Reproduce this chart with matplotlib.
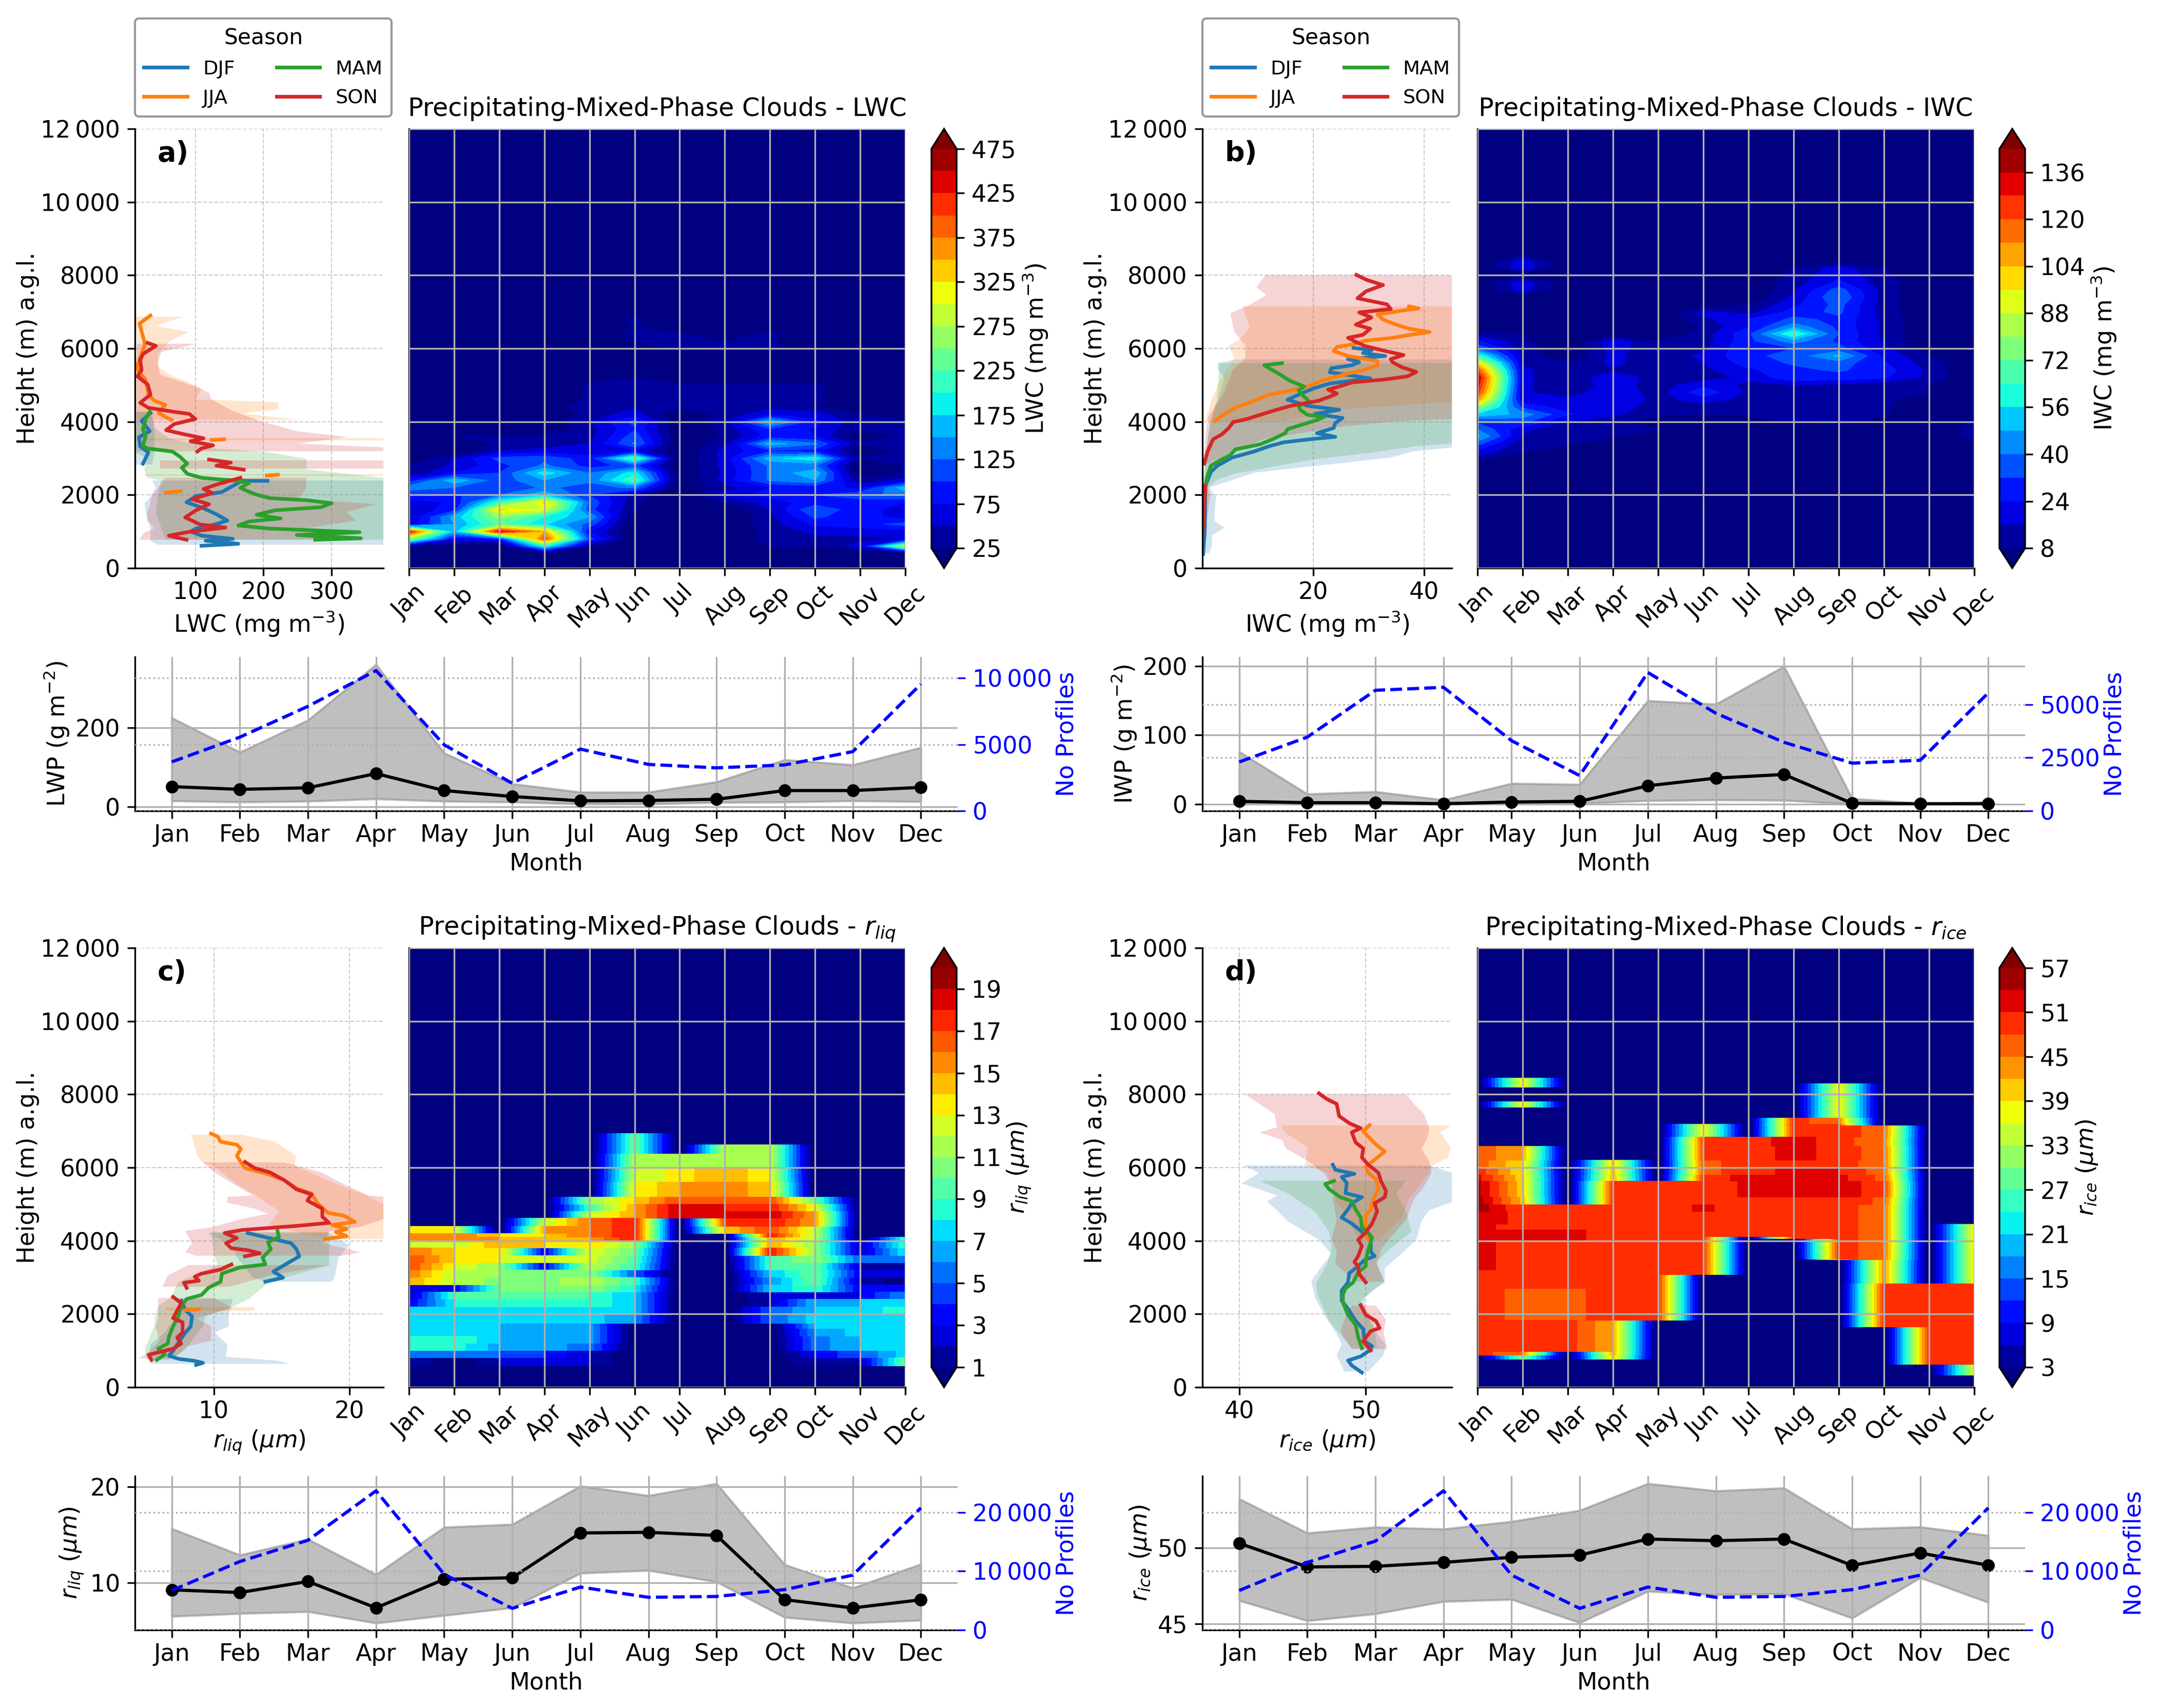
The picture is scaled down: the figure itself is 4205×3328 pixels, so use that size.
import numpy as np
import matplotlib
matplotlib.use("Agg")
import matplotlib.pyplot as plt

nan = np.nan
months = ["Jan", "Feb", "Mar", "Apr", "May", "Jun", "Jul", "Aug", "Sep", "Oct", "Nov", "Dec"]
seasons = ["DJF", "JJA", "MAM", "SON"]
season_colors = {"DJF": "tab:blue", "JJA": "tab:orange", "MAM": "tab:green", "SON": "tab:red"}

# ---------- monthly series ----------
lwp_mean = [51, 44, 48, 84, 41, 26, 15, 16, 19, 41, 41, 49]
lwp_high = [225, 138, 219, 360, 136, 58, 37, 37, 63, 119, 106, 150]
lwp_low = [15, 12, 14, 20, 14, 12, 7, 7, 11, 12, 15, 13]
lwp_n = [3690, 5550, 7870, 10565, 4975, 2080, 4650, 3500, 3240, 3460, 4460, 9540]
iwp_mean = [4, 2, 2, 0.5, 3, 4, 26.5, 37.7, 43, 1, 0.5, 0.5]
iwp_high = [76, 14.6, 18, 6, 30, 28.5, 150, 145, 200, 8, 1, 3]
iwp_low = [0.5, 0, 0, 0, 0.5, 1, 5, 6, 5.5, 0, 0, 0]
iwp_n = [2300, 3470, 5670, 5810, 3300, 1660, 6510, 4590, 3225, 2245, 2380, 5550]
rliq_mean = [9.27, 8.99, 10.14, 7.39, 10.36, 10.53, 15.2, 15.27, 14.94, 8.24, 7.38, 8.23]
rliq_high = [15.66, 12.9, 14.55, 10.87, 15.8, 16.1, 20.1, 19.1, 20.35, 11.9, 9.47, 11.95]
rliq_low = [6.5, 6.8, 7, 5.8, 6.6, 7.4, 11, 11.3, 10.1, 6.4, 5.8, 6.1]
rliq_n = [6715, 11635, 15250, 23650, 9465, 3675, 7295, 5555, 5700, 6860, 9320, 20750]
rice_mean = [50.3, 48.74, 48.78, 49.04, 49.38, 49.52, 50.58, 50.47, 50.58, 48.84, 49.66, 48.85]
rice_high = [53.24, 50.98, 51.37, 51.24, 51.74, 52.47, 54.24, 53.76, 53.95, 51.25, 51.38, 50.82]
rice_low = [46.52, 45.19, 45.65, 46.46, 46.6, 45.06, 47.13, 46.91, 46.97, 45.36, 48.03, 46.4]
rice_n = [6715, 11490, 15100, 23650, 9320, 3675, 7295, 5555, 5700, 6860, 9320, 20750]

# ---------- seasonal profile lines (height, value) ----------
lwc_djf_h = [4240, 4020, 3740, 3575, 3326, 3160, 2855, nan, 2384, 2384, 2245, 2080, 1968, 1800, 1635, 1470, 1300, 1190, 1080, 1000, 887, 800, 750, 665, 610]
lwc_djf_v = [34, 21, 33, 17, 19, 31, 23, nan, 206, 169, 155, 139, 101, 87, 112, 131, 147, 128, 101, 93, 109, 155, 115, 163, 109]
lwc_jja_h = [6900, 6680, 6400, 6125, 5850, 5515, 5350, 5180, 4960, 4740, 4570, 4460, 4240, 4130, 4050, nan, 3500, 3520, nan, 2530, 2550, nan, 2060, 2100]
lwc_jja_v = [34, 18, 22, 26, 21, 14, 17, 26, 29, 31, 40, 56, 46, 56, 65, nan, 124, 142, nan, 205, 221, nan, 57, 78]
lwc_mam_h = [4268, 4074, 3797, 3600, 3354, 3270, 3187, 3049, 2855, 2744, 2578, 2467, 2395, 2328, 2190, 2023, 1912, 1857, 1774, 1663, 1580, 1458, 1358, 1275, 1164, 1081, 981, 904, 815, 776]
lwc_mam_v = [33, 27, 23, 27, 23, 29, 66, 77, 88, 80, 88, 109, 155, 179, 166, 187, 209, 263, 300, 284, 217, 190, 225, 179, 163, 209, 341, 249, 343, 276]
lwc_son_h = [6153, 6070, 5848, 5682, 5405, 5238, 5017, 4740, 4518, 4380, 4268, 4213, 4074, 3936, 3769, 3658, 3548, 3465, 3354, 3270, 3187, nan, 2966, 2883, 2800, 2688, nan, 2467, 2300, 2162, 2051, 1885, 1746, 1580, 1386, 1192, 1109, 998, 887, 776]
lwc_son_v = [30, 42, 23, 19, 21, 15, 30, 34, 19, 31, 69, 91, 100, 69, 57, 83, 112, 93, 126, 109, 103, nan, 120, 152, 131, 171, nan, 166, 134, 112, 125, 95, 120, 101, 85, 107, 144, 93, 61, 87]

iwc_djf_h = [388, 1025, 2245, 2633, 2800, 3020, 3187, 3326, 3437, 3520, 3586, 3686, 3825, 3963, 4102, 4213, 4324, 4435, 4600, 4712, 4906, 5044, 5183, 5266, 5350, 5460, 5543, 5626, 5710, 5793, 5876, 5959, 6015]
iwc_djf_v = [0.2, 0.5, 0.6, 1.6, 2.8, 5.4, 9.4, 12, 14.7, 19.4, 24, 20.7, 23.7, 24, 25.3, 20.4, 24.7, 19, 15.4, 17, 20, 23, 30.3, 26.7, 23, 23.3, 27, 28.3, 26.3, 33, 29, 30.6, 27.3]
iwc_jja_h = [4019, 4185, 4379, 4573, 4739, 4850, 4961, 5127, 5294, 5405, 5543, 5654, 5793, 5931, 6042, 6114, 6208, 6291, 6374, 6447, 6540, 6651, 6790, 6929, 7040, 7095, 7150]
iwc_jja_v = [2.3, 3.8, 6, 9.4, 12, 16, 19, 21.7, 25.7, 29, 31.6, 31.6, 26.3, 23.7, 24.3, 27.3, 29.3, 34.3, 37.6, 41, 37.3, 35, 32.6, 31.6, 36.3, 39, 37.3]
iwc_mam_h = [1303, 2217, 2578, 2800, 2966, 3076, 3243, 3381, 3520, 3686, 3797, 3936, 4047, 4130, 4185, 4324, 4435, 4545, 4684, 4850, 4961, 5127, 5294, 5432, 5543, 5598]
iwc_mam_v = [0.2, 0.5, 1.1, 1.6, 3.5, 5, 6, 10.4, 12.7, 15, 15.4, 18.4, 20.7, 22, 19, 17.7, 17.4, 19.4, 18.4, 17.4, 18.4, 15.7, 14, 12.4, 11.2, 14.4]
iwc_son_h = [970, 2245, nan, 2855, 3187, 3520, 3658, 3825, 3991, 4074, 4213, 4324, 4435, 4573, 4684, 4767, 4878, 4961, 5072, 5155, 5238, 5360, 5488, 5626, 5710, 5820, 5931, 6070, 6180, 6291, 6374, 6540, 6651, 6846, 6984, 7078, 7206, 7372, 7566, 7732, 7871, 8010]
iwc_son_v = [0.1, 0.6, nan, 0.4, 1, 2, 3.6, 4.8, 5.6, 8.1, 11, 13.4, 16, 21, 23, 24.3, 22.7, 24.7, 27, 33, 37, 38.6, 36, 34.3, 34, 36.3, 33, 29.3, 27.7, 26.3, 29, 30.3, 27.7, 30.5, 28.3, 34, 33.3, 28, 29.6, 32.6, 29.7, 27.8]

rliq_djf_h = [4213, 4047, 3936, 3769, 3576, 3381, 3160, 2993, 2882, nan, 2356, 2106, 1940, 1663, 1441, 1220, 998, 859, 776, 720, 665, 610]
rliq_djf_v = [12.5, 14.4, 15.7, 16.1, 16.3, 15.4, 14.4, 15.1, 13.8, nan, 7.6, 7.9, 8.4, 8.3, 7.8, 7.4, 7, 6.7, 7.4, 8.6, 9.2, 8.7]
rliq_jja_h = [6930, 6846, 6707, 6624, 6513, 6319, 6098, 5987, 5820, 5654, 5432, 5294, 5044, 4767, 4684, 4518, 4435, 4324, 4240, 4130, 4047, nan, 2134, 2106]
rliq_jja_v = [9.8, 10.3, 10.5, 11.7, 12, 11.7, 12.1, 12.3, 14, 15.2, 16.1, 17.2, 17.6, 18.4, 19.6, 20.4, 18.7, 19.8, 19, 19.8, 18.2, nan, 8.9, 7.9]
rliq_mam_h = [4268, 4102, 3963, 3769, 3548, 3354, 3271, 3104, 2882, 2716, 2522, 2411, 2217, 1940, 1663, 1386, 1192, 1053, 900, 748]
rliq_mam_v = [14.7, 14.8, 14, 14.2, 13.6, 13.8, 11.9, 10.6, 10.5, 9.6, 9.1, 8, 7.6, 7.4, 7, 6.7, 6.6, 5.9, 6.4, 5.8]
rliq_son_h = [6153, 5987, 5876, 5654, 5404, 5266, 5100, 4878, 4656, 4490, 4407, 4296, 4213, 4074, 3936, 3797, 3742, 3659, 3576, nan, 3354, 3215, 3104, 3021, 2910, 2855, 2716, nan, 2467, 2300, 2162, 1885, 1774, 1497, 1358, 1192, 1053, 887, 748]
rliq_son_v = [12.3, 13, 14.1, 15.2, 16.1, 17.2, 16.9, 18, 18, 18.5, 16.1, 12.1, 10.8, 11.7, 10.9, 11.3, 12.5, 13.4, 12.3, nan, 11.3, 10.5, 9.1, 8.6, 8.9, 7.8, 8, nan, 7, 7.6, 7.4, 7, 7.7, 7.7, 7.3, 7.6, 7, 5.2, 5.4]

rice_djf_h = [400, 593, 731, 842, 980, 1119, 1258, 1590, 1812, 2144, 2366, 2643, 2864, 3114, 3307, 3474, 3584, 3695, 4028, 4277, 4471, 4637, 4859, 5025, 5191, 5302, 5579, 5745, 5828, 5939, 6078]
rice_djf_v = [49.7, 48.9, 48.6, 49.6, 50.2, 50.5, 49.9, 49.8, 49.2, 48.6, 48.1, 48.1, 48.6, 48.7, 49.4, 49.9, 50.7, 50.4, 50.4, 49.6, 48.9, 48.1, 48.6, 48.9, 49.7, 48.4, 48.5, 48.1, 49.1, 47.6, 47.4]
rice_jja_h = [4028, 4194, 4471, 4692, 4859, 5136, 5413, 5690, 5856, 6022, 6188, 6299, 6438, 6632, 6881, 6992, 7158]
rice_jja_v = [50.2, 49.9, 50, 50, 50.4, 50.6, 51, 50.8, 50.2, 50, 50.6, 51, 51.5, 50.8, 50.1, 49.8, 50.3]
rice_mam_h = [1064, 1368, 1701, 1978, 2310, 2532, 2698, 2864, 3141, 3307, 3474, 3751, 4083, 4222, 4360, 4637, 4859, 5080, 5191, 5413, 5551, 5634]
rice_mam_v = [49.7, 49.4, 49.2, 48.6, 48.2, 48.2, 48.4, 49, 49.4, 50, 50, 50.2, 50.5, 50.2, 49.7, 49.6, 49.2, 48.9, 48, 47.1, 46.8, 47.5]
rice_son_h = [1008, 1258, 1535, 1618, 1812, 1978, 2244, nan, 2864, 3086, 3307, 3418, 3584, 3861, 4028, 4194, 4471, 4803, 5025, 5191, 5357, 5634, 5856, 6078, 6272, 6521, 6687, 6964, 7075, 7213, 7407, 7740, 7878, 8028]
rice_son_v = [50.4, 49.8, 50.4, 51.1, 50.8, 50, 49.6, nan, 50, 49.5, 49.4, 49.1, 49.4, 49.7, 49.4, 49.9, 50.5, 50.9, 50.7, 51.5, 51.6, 51.2, 51, 50.2, 49.7, 49.8, 49.2, 48.9, 49.6, 48.7, 47.9, 47.7, 46.9, 46.3]

# ---------- seasonal spread: each piece is (heights, lower, upper) ----------
lwc_djf_spread = [([4270, 3830, 3190, 2830], [14, 13, 13, 13], [37, 40, 40, 37]),
                  ([2395, 2190, 1860, 1770, 1410, 1080, 750, 640], [37, 42, 30, 25, 29, 34, 34, 45], [376] * 8)]
lwc_jja_spread = [([6870, 6620, 6450, 6180, 5850, 5500, 5300, 5100, 4890, 4610, 4530, 4340, 4230, 4050],
                   [13, 13, 14, 14, 14, 13, 13, 13, 13, 13, 13, 13, 13, 14],
                   [82, 42, 90, 61, 45, 45, 61, 87, 109, 100, 222, 222, 169, 254]),
                  ([3540, 3490], [14, 14], [376, 376]), ([2560, 2520], [24, 24], [376, 376])]
lwc_mam_spread = [([4270, 3830, 3550, 3270, 3160, 2990, 2700, 2470, 2395, 2000, 1500, 776],
                   [13, 13, 13, 13, 13, 29, 25, 29, 50, 45, 42, 56],
                   [34, 40, 61, 128, 209, 263, 263, 376, 376, 376, 376, 376])]
lwc_son_spread = [([6130, 5900, 5620, 5290, 4960, 4790, 4620, 4290, 4020, 3740, 3580, 3400, 3300, 3190],
                   [14] * 14, [101, 50, 45, 48, 101, 120, 123, 155, 195, 249, 324, 250, 376, 376]),
                  ([2950, 2720], [48, 48], [376, 376]),
                  ([2470, 2190, 1890, 1750, 1530, 1300, 1090, 970, 776],
                   [56, 45, 34, 34, 29, 29, 40, 25, 17],
                   [263, 263, 250, 366, 322, 336, 263, 300, 300])]

iwc_djf_spread = [([5700, 5600, 5450, 5200, 4630, 3960, 3300, 3190, 3020, 2800, 2610, 2200, 1950, 1580, 1300, 1100, 900, 630, 410],
                   [5.8, 2.9, 2.8, 4, 3, 1.5, 0.9, 0.8, 0.7, 0.6, 0.5, 0.3, 0.2, 0.2, 0.2, 0.2, 0.2, 0.2, 0.2],
                   [45.5, 45.5, 45.5, 45.5, 45.5, 45.5, 45.5, 38, 34, 21, 9.5, 1.4, 2.5, 2.3, 2.2, 4, 1.8, 1.8, 1.3])]
iwc_jja_spread = [([7150, 6570, 6260, 6070, 5740, 5180, 4630, 4545, 4350, 4019],
                   [7.3, 8.6, 6.8, 4.8, 5.8, 3.4, 1.8, 1.6, 1.2, 0.6],
                   [45.5, 45.5, 45.5, 45.5, 45.5, 45.5, 45.5, 45.5, 26, 14.9])]
iwc_mam_spread = [([5600, 4630, 3960, 3409, 3326, 3160, 2966, 2578, 2411, 2217, 1300],
                   [3.1, 2.7, 1.4, 0.9, 0.8, 0.7, 0.5, 0.3, 0.2, 0.1, 0.1],
                   [45.5, 45.5, 45.5, 45.5, 38.4, 30.9, 20, 5.8, 2.7, 1.2, 0.3])]
iwc_son_spread = [([8000, 7675, 7455, 7180, 6960, 6460, 6070, 5740, 5400, 4740, 4190, 4074, 4020, 3850, 3520, 2855],
                   [11.4, 9.8, 11.6, 8.4, 5.1, 5.8, 7.8, 7.8, 5.5, 3.8, 1.3, 1, 1, 0.8, 0.6, 0.2],
                   [45.5, 45.5, 45.5, 45.5, 45.5, 45.5, 45.5, 45.5, 45.5, 45.5, 45.5, 45.5, 35.6, 24.3, 11, 1]),
                  ([2245, 1950, 1300, 970], [0.1, 0.1, 0.1, 0.1], [1, 1.5, 0.8, 0.2])]

rliq_djf_spread = [([4213, 3880, 3548, 2993, 2882], [9.5, 11.4, 11.7, 12.9, 13.8], [18.5, 20, 19.2, 18.9, 18.7]),
                   ([2411, 1996, 1663, 1497, 1164, 832, 720, 637],
                    [7.4, 7.4, 6.7, 6.4, 5.3, 5.3, 5.3, 5.4], [11.4, 11.1, 11.1, 10.05, 11, 10.9, 14.8, 15.5])]
rliq_jja_spread = [([6900, 6707, 6540, 6320, 6153, 6040, 5543, 5266, 4990, 4820, 4435, 4047],
                    [8.3, 8.5, 8.6, 8.8, 9.1, 10, 11.7, 13, 14.1, 14.8, 14.1, 18.2],
                    [12.1, 14.5, 15.2, 16.05, 16, 16, 19.1, 21.1, 22.6, 22.6, 22.6, 22.6]),
                   ([2180, 2090], [6.5, 6.5], [13, 13])]
rliq_mam_spread = [([4240, 3576, 3326, 2882, 2439, 2217, 1940, 1663, 1386, 1025, 748],
                    [9.8, 10.05, 10.3, 7.4, 6.8, 5.9, 5.7, 5.6, 5.3, 4.9, 5.1],
                    [18.5, 18.5, 18.5, 14.1, 12.7, 11.5, 9.4, 9.2, 8.6, 7.9, 6.7])]
rliq_son_spread = [([6142, 5876, 5543, 5238, 5200, 5044, 4878, 4740, 4600, 4380, 4268, 3936, 3686, 3592],
                    [9.2, 10, 11.5, 12.9, 11, 11, 13, 14, 12.1, 10, 7.9, 8.4, 7.9, 8.7],
                    [15.2, 17.9, 19.6, 21.4, 22.6, 22.6, 22.6, 22.6, 22.6, 20.8, 18.5, 18.1, 20.8, 19.5]),
                   ([3337, 3049, 2744], [8.1, 6.6, 6.2], [18.5, 14.1, 11.1]),
                   ([2439, 2162, 1885, 1663, 1275, 1109, 887, 787],
                    [5.9, 5.9, 5.9, 5.7, 6, 5.6, 4.9, 4.4], [10.05, 11.4, 8.7, 9.8, 9.8, 8, 7.4, 6.7])]

rice_djf_spread = [([6060, 5850, 5570, 5240, 5070, 4830, 4540, 4030, 3640, 3250, 2900, 2440, 1990, 1400, 1170, 870, 430],
                    [40.3, 41.6, 40.2, 43, 42.2, 43, 43.8, 46.3, 47.3, 46.4, 45.7, 46, 46.7, 47.8, 48.1, 47.7, 48.3],
                    [55, 56.9, 56.9, 56.9, 56.9, 55, 54.4, 54, 52.8, 51.5, 51.5, 49.9, 50, 51, 51.6, 51.4, 50.2])]
rice_jja_spread = [([7150, 6960, 6550, 6270, 6070, 5850, 5130, 4580, 4030],
                    [43.3, 43.6, 45.4, 45.3, 45.2, 47, 47.6, 48.6, 49.4],
                    [56.7, 55.9, 56.7, 56.5, 55.3, 55, 53.4, 52.8, 51])]
rice_mam_spread = [([5640, 5300, 4800, 4250, 3800, 3420, 2850, 2670, 2340, 2190, 1810, 1060],
                    [41.6, 43.8, 46, 47.1, 47.3, 47, 46.1, 46.1, 46.4, 46.6, 47.1, 48.9],
                    [53.2, 52.4, 53.2, 53.6, 52, 50.8, 51.5, 50.6, 49.6, 49.9, 50.6, 50.9])]
rice_son_spread = [([8000, 7740, 7460, 7100, 6960, 6760, 6520, 6190, 5850, 5430, 5130, 4580, 4030, 3750, 3360, 2880],
                    [40.5, 41.6, 42.8, 43, 41.6, 43.4, 43.7, 45.4, 46.7, 47.4, 47.4, 47.7, 47.3, 47.7, 47.6, 49.2],
                    [53.2, 53.8, 54.6, 55, 55, 54.8, 54.4, 55, 55.2, 54.5, 53.8, 53.2, 51.8, 51.2, 50.9, 51.5]),
                   ([2230, 1840, 1530, 1040], [48.9, 48.3, 48, 48.9], [50.8, 51.6, 51.4, 51.7])]

# ---------- height-month sections ----------
lwc_heights = [400, 600, 800, 1000, 1200, 1400, 1600, 1800, 2000, 2200, 2400, 2600, 2800, 3000, 3200, 3400, 3600,
               3800, 4000, 4200, 4400, 4600, 4800, 5000, 5200, 5400, 5600, 5800, 6000, 6200, 6400, 6600, 6800, 7000]
lwc_table = [
    [0, 0, 0, 0, 0, 0, 0, 0, 0, 0, 0, 0],
    [28, 0, 0, 200, 28, 0, 0, 0, 28, 26, 60, 280],
    [260, 70, 90, 400, 110, 0, 0, 0, 35, 45, 45, 50],
    [430, 160, 440, 350, 75, 0, 0, 0, 35, 55, 60, 65],
    [60, 150, 230, 180, 115, 0, 0, 0, 40, 80, 90, 110],
    [45, 160, 260, 200, 150, 0, 0, 0, 40, 105, 85, 65],
    [55, 90, 330, 300, 110, 26, 0, 0, 50, 125, 80, 70],
    [60, 80, 210, 330, 120, 30, 0, 28, 65, 85, 85, 75],
    [100, 95, 125, 170, 100, 40, 0, 60, 85, 100, 120, 130],
    [140, 125, 100, 130, 115, 130, 0, 40, 75, 85, 70, 170],
    [85, 170, 110, 150, 130, 225, 0, 60, 130, 150, 30, 60],
    [30, 75, 100, 190, 125, 190, 0, 55, 130, 170, 0, 30],
    [26, 55, 90, 130, 90, 110, 0, 60, 130, 130, 0, 26],
    [0, 50, 110, 120, 85, 235, 0, 60, 165, 195, 26, 28],
    [0, 0, 50, 60, 60, 70, 0, 60, 95, 90, 0, 28],
    [0, 0, 30, 35, 50, 130, 0, 40, 165, 130, 30, 28],
    [0, 26, 28, 28, 40, 115, 0, 28, 85, 75, 0, 32],
    [0, 0, 0, 0, 40, 95, 0, 32, 100, 70, 28, 30],
    [26, 0, 0, 0, 50, 110, 0, 48, 170, 85, 30, 35],
    [0, 0, 0, 0, 35, 62, 0, 32, 70, 60, 28, 0],
    [0, 0, 0, 0, 46, 48, 28, 30, 40, 32, 0, 0],
    [0, 0, 0, 0, 32, 33, 28, 30, 30, 30, 0, 0],
    [0, 0, 0, 0, 28, 32, 30, 30, 32, 30, 0, 0],
    [0, 0, 0, 0, 30, 36, 28, 28, 28, 34, 0, 0],
    [0, 0, 0, 0, 0, 30, 0, 0, 0, 0, 0, 0],
    [0, 0, 0, 0, 0, 0, 0, 0, 0, 0, 0, 0],
    [0, 0, 0, 0, 0, 0, 0, 0, 0, 0, 0, 0],
    [0, 0, 0, 0, 0, 0, 0, 0, 0, 0, 0, 0],
    [0, 0, 0, 0, 0, 0, 28, 30, 32, 0, 0, 0],
    [0, 0, 0, 0, 0, 27, 30, 27, 30, 0, 0, 0],
    [0, 0, 0, 0, 0, 33, 27, 0, 32, 0, 0, 0],
    [0, 0, 0, 0, 0, 26, 0, 0, 0, 0, 0, 0],
    [0, 0, 0, 0, 0, 32, 0, 0, 0, 0, 0, 0],
    [0, 0, 0, 0, 0, 0, 0, 0, 0, 0, 0, 0],
]

iwc_heights = [2800, 3000, 3200, 3400, 3600, 3800, 4000, 4200, 4400, 4600, 4800, 5000, 5200, 5400, 5600, 5800, 6000,
               6200, 6400, 6600, 6800, 7000, 7200, 7400, 7600, 7800, 8000, 8200, 8400, 8600]
iwc_table = [
    [0, 0, 0, 0, 0, 0, 0, 0, 0, 0, 0, 0],
    [12, 0, 0, 0, 0, 0, 0, 0, 0, 0, 0, 0],
    [22, 9, 0, 0, 0, 0, 0, 0, 0, 0, 0, 0],
    [35, 10, 10, 0, 0, 0, 0, 0, 0, 0, 0, 0],
    [50, 15, 12, 9, 0, 0, 0, 0, 0, 0, 0, 11],
    [40, 18, 10, 10, 9, 0, 0, 0, 0, 0, 0, 11],
    [30, 35, 15, 10, 0, 0, 0, 9, 14, 0, 0, 9],
    [55, 45, 25, 18, 10, 10, 10, 10, 16, 9, 0, 0],
    [80, 30, 20, 20, 12, 12, 12, 12, 14, 10, 0, 0],
    [110, 18, 18, 24, 13, 20, 13, 13, 14, 11, 0, 0],
    [125, 17, 12, 22, 12, 30, 14, 14, 13, 12, 8, 0],
    [132, 18, 10, 20, 12, 22, 14, 16, 14, 10, 8, 0],
    [138, 18, 10, 22, 12, 12, 18, 30, 28, 25, 14, 0],
    [122, 18, 10, 15, 12, 14, 22, 30, 33, 28, 14, 0],
    [100, 15, 9, 18, 11, 16, 28, 33, 36, 25, 12, 0],
    [65, 14, 0, 18, 10, 18, 30, 35, 50, 22, 9, 0],
    [40, 12, 0, 20, 9, 14, 32, 32, 35, 18, 0, 0],
    [25, 10, 0, 22, 8, 12, 30, 44, 30, 15, 0, 0],
    [12, 8, 0, 0, 0, 12, 30, 66, 32, 14, 0, 0],
    [0, 0, 0, 0, 0, 9, 24, 45, 30, 14, 0, 0],
    [0, 0, 0, 0, 0, 14, 24, 34, 30, 14, 0, 0],
    [0, 0, 0, 0, 0, 18, 12, 28, 34, 12, 0, 0],
    [0, 0, 0, 0, 0, 0, 8, 22, 35, 12, 0, 0],
    [0, 0, 0, 0, 0, 0, 0, 18, 40, 12, 0, 0],
    [0, 20, 0, 0, 0, 0, 0, 15, 36, 12, 0, 0],
    [0, 22, 0, 0, 0, 0, 0, 12, 26, 12, 0, 0],
    [0, 0, 0, 0, 0, 0, 0, 10, 22, 10, 0, 0],
    [0, 22, 0, 0, 0, 0, 0, 9, 20, 9, 0, 0],
    [0, 20, 0, 0, 0, 0, 0, 0, 0, 0, 0, 0],
    [0, 0, 0, 0, 0, 0, 0, 0, 0, 0, 0, 0],
]

rliq_edges = [580, 800, 1000, 1200, 1400, 1600, 1750, 2000, 2200, 2400, 2600, 2800, 3000, 3200, 3400, 3600, 3800,
              4000, 4100, 4200, 4400, 4620, 4800, 5000, 5200, 5600, 6000, 6370, 6630, 6930]
rliq_table = [
    [2, 0, 2, 2.5, 2, 0, 0, 0, 0, 2, 2, 10],
    [6, 6, 5, 4, 2, 0, 0, 0, 0, 3, 5, 7.5],
    [8, 8.5, 6.5, 6.5, 5.5, 0, 0, 0, 0, 5.5, 7, 7.5],
    [9, 9, 7, 6.5, 6.5, 0, 0, 0, 0, 5.5, 7, 7.5],
    [8, 8, 7, 6.8, 6.5, 0, 0, 0, 0, 6, 7.5, 7.5],
    [7.5, 7.5, 7, 6.8, 6.5, 0, 0, 0, 0, 7, 7.5, 8],
    [7.2, 7.5, 7.5, 7.5, 7.5, 6, 0, 0, 5, 7.5, 8, 8],
    [7.5, 7.5, 8, 8, 8, 7, 0, 0, 5, 7, 7.5, 8.5],
    [3, 8, 8.5, 8.5, 9, 7, 0, 0, 2, 7, 7, 7.5],
    [2, 9, 9.5, 9.5, 9, 7, 0, 0, 2, 3, 3, 6],
    [2, 3, 10, 10.5, 11, 8, 0, 0, 7, 9, 3, 4],
    [15, 12, 10.5, 10.5, 12, 9, 0, 0, 6, 10, 2, 0],
    [16, 12, 11, 11, 11, 5, 0, 0, 7, 10, 3, 3],
    [17, 13, 11, 3, 12, 9, 0, 0, 9, 10, 2, 2],
    [17, 14, 13, 13, 12.5, 9.5, 0, 0, 9, 11, 5, 6],
    [16, 14, 14, 3, 13, 10, 0, 0, 18, 11, 2, 8],
    [13, 12, 15, 14, 14, 11, 0, 0, 15, 11, 2, 9],
    [16, 16, 15, 15, 15, 18, 0, 0, 15, 12, 0, 9],
    [16, 16, 14, 14, 16, 18, 0, 0, 18, 12, 0, 0],
    [14, 13, 0, 15, 16, 18, 0, 14, 17, 12, 0, 0],
    [0, 0, 0, 12, 16, 18, 0, 17, 18, 15, 0, 0],
    [0, 0, 0, 0, 12, 15, 19, 18.5, 19, 15, 0, 0],
    [0, 0, 0, 0, 9, 15, 19, 18, 18, 13, 0, 0],
    [0, 0, 0, 0, 11, 14, 17, 17, 17, 10, 0, 0],
    [0, 0, 0, 0, 0, 13, 15, 16, 14, 0, 0, 0],
    [0, 0, 0, 0, 0, 12, 13.5, 15, 13, 0, 0, 0],
    [0, 0, 0, 0, 0, 11.5, 11.5, 12, 12, 0, 0, 0],
    [0, 0, 0, 0, 0, 10, 0, 12, 12, 0, 0, 0],
    [0, 0, 0, 0, 0, 10, 0, 0, 0, 0, 0, 0],
]

rice_edges = [330, 620, 770, 870, 975, 1650, 1830, 2300, 2700, 2830, 3080, 3200, 3490, 4000, 4060, 4110, 4300, 4450,
              4800, 4980, 5200, 5630, 5800, 6000, 6200, 6580, 6830, 7140, 7190, 7350, 7650, 7800, 8200, 8290, 8450]
rice_table = [
    [0, 0, 0, 0, 0, 0, 0, 0, 0, 0, 0, 36],
    [0, 0, 0, 0, 0, 0, 0, 0, 0, 0, 49.5, 49.5],
    [0, 30, 0, 40, 0, 0, 0, 0, 0, 0, 49.5, 49.5],
    [49.5, 45, 0, 42, 0, 0, 0, 0, 0, 0, 49.5, 49.5],
    [49.5, 49.5, 49.5, 42, 0, 0, 0, 0, 0, 0, 49.5, 49.5],
    [49.5, 49.5, 49.5, 42, 0, 0, 0, 0, 0, 49.5, 49.5, 49.5],
    [49.5, 47, 47, 49.5, 49.5, 0, 0, 0, 0, 49.5, 49.5, 49.5],
    [49.5, 47, 47, 49.5, 49.5, 0, 0, 0, 0, 49.5, 49.5, 49.5],
    [49.5, 49.5, 49.5, 49.5, 49.5, 0, 0, 0, 0, 49.5, 49.5, 49.5],
    [49.5, 49.5, 49.5, 49.5, 49.5, 0, 0, 0, 0, 44, 0, 38],
    [50, 49.5, 49.5, 49.5, 49.5, 49.5, 0, 0, 0, 44, 0, 38],
    [52, 49.5, 49.5, 49.5, 49.5, 49.5, 0, 0, 0, 44, 0, 38],
    [52, 49.5, 49.5, 49.5, 49.5, 49.5, 0, 0, 49.5, 46, 0, 38],
    [52, 52, 52, 49.5, 49.5, 49.5, 0, 0, 49.5, 46, 0, 38],
    [52, 52, 52, 49.5, 49.5, 49.5, 0, 49.5, 49.5, 46, 0, 38],
    [52, 52, 52, 49.5, 49.5, 49.5, 49.5, 49.5, 49.5, 46, 0, 38],
    [52, 49.5, 49.5, 49.5, 49.5, 49.5, 49.5, 49.5, 49.5, 46, 0, 38],
    [54, 49.5, 49.5, 49.5, 49.5, 49.5, 49.5, 49.5, 49.5, 46, 0, 0],
    [56, 48, 49.5, 49.5, 49.5, 51.5, 49.5, 49.5, 49.5, 46, 0, 0],
    [56, 41, 0, 49.5, 49.5, 49.5, 49.5, 49.5, 51, 47, 0, 0],
    [55, 40, 0, 49.5, 49.5, 49.5, 51.5, 53, 53, 49, 0, 0],
    [52, 40, 0, 42, 0, 49.5, 52, 53, 52, 47, 0, 0],
    [50, 39, 0, 41, 0, 47, 49.5, 52, 51, 46, 0, 0],
    [47, 39, 0, 40, 0, 47, 49.5, 49.5, 49.5, 46, 0, 0],
    [47, 42, 0, 0, 0, 48, 49.5, 52, 50, 46, 0, 0],
    [0, 0, 0, 0, 0, 48, 49.5, 52.5, 49.5, 45, 0, 0],
    [0, 0, 0, 0, 0, 38, 0, 49.5, 50, 46, 0, 0],
    [0, 0, 0, 0, 0, 38, 0, 50, 48, 0, 0, 0],
    [0, 0, 0, 0, 0, 0, 0, 49.5, 45, 0, 0, 0],
    [0, 0, 0, 0, 0, 0, 0, 0, 38, 0, 0, 0],
    [0, 38, 0, 0, 0, 0, 0, 0, 38, 0, 0, 0],
    [0, 0, 0, 0, 0, 0, 0, 0, 38, 0, 0, 0],
    [0, 38, 0, 0, 0, 0, 0, 0, 38, 0, 0, 0],
    [0, 38, 0, 0, 0, 0, 0, 0, 0, 0, 0, 0],
]

# ---------- colour scales ----------
lwc_levels = list(range(25, 476, 25))
lwc_ticks = list(range(25, 476, 50))
iwc_levels = list(range(8, 145, 8))
iwc_ticks = list(range(8, 137, 16))
rliq_levels = list(range(1, 21))
rliq_ticks = list(range(1, 20, 2))
rice_levels = list(range(3, 58, 3))
rice_ticks = list(range(3, 58, 6))

# ---------- layout ----------
W, H = 4205, 3328
DPI = 300
plt.rcParams.update({"font.size": 11, "axes.linewidth": 0.8, "xtick.major.pad": 2.5})
fig = plt.figure(figsize=(W / DPI, H / DPI), dpi=DPI)


def add(x0, y0, x1, y1):
    return fig.add_axes([x0 / W, 1 - y1 / H, (x1 - x0) / W, (y1 - y0) / H])


def spaced(v):
    return f"{v // 1000}\u2009{v % 1000:03d}" if v >= 10000 else str(v)


def step_grid(edges, table):
    """Turn bands (edges + one row per band) into a grid with sharp band limits."""
    ys, rows = [0.0], [[0.0] * 12]
    ys.append(edges[0] - 2.0)
    rows.append([0.0] * 12)
    for k, row in enumerate(table):
        ys += [edges[k] + 1.0, edges[k + 1] - 1.0]
        rows += [row, row]
    ys += [edges[-1] + 2.0, 12000.0]
    rows += [[0.0] * 12, [0.0] * 12]
    return np.array(ys), np.array(rows, dtype=float)


def smooth_grid(heights, table):
    ys = [0.0] + list(heights) + [12000.0]
    rows = [[0.0] * 12] + table + [[0.0] * 12]
    return np.array(ys, dtype=float), np.array(rows, dtype=float)


def panel(col_x, row_y, mon_y, tag, xlim, xticks, qty, title_qty, cbar_label, grid, levels, ticks,
          lines, spreads, mon, right_ticks, right_top, mon_ylabel, mon_ylim, mon_yticks, legend=False):
    px0, px1, hx0, hx1, cx0, cx1, mx1 = col_x
    y0, y1 = row_y
    prof = add(px0, y0, px1, y1)
    for s in seasons:
        for seg_h, seg_lo, seg_hi in spreads[s]:
            prof.fill(list(seg_lo) + list(seg_hi)[::-1], list(seg_h) + list(seg_h)[::-1],
                      color=season_colors[s], alpha=0.2, lw=0)
    for s in seasons:
        h, v = lines[s]
        prof.plot(v, h, color=season_colors[s], lw=1.7, label=s)
    prof.set_xlim(*xlim)
    prof.set_ylim(0, 12000)
    prof.set_xticks(xticks)
    prof.set_yticks(range(0, 12001, 2000))
    prof.set_yticklabels([spaced(v) for v in range(0, 12001, 2000)])
    prof.grid(True, ls="--", lw=0.5, color="0.5", alpha=0.4)
    prof.spines[["top", "right"]].set_visible(False)
    prof.set_xlabel(qty, labelpad=2.5)
    prof.set_ylabel("Height (m) a.g.l.", labelpad=0.5)
    prof.text(0.09, 0.944, tag, transform=prof.transAxes, fontsize=13, fontweight="bold", va="center")
    if legend:
        prof.legend(title="Season", ncol=2, fontsize=9.2, title_fontsize=10.2, loc="lower left",
                    bbox_to_anchor=(0.0, 1.028), borderaxespad=0, edgecolor="0.5", columnspacing=2.1,
                    handlelength=2.2, borderpad=0.45, labelspacing=0.55)

    heat = add(hx0, y0, hx1, y1)
    ys, z = grid
    cs = heat.contourf(range(12), ys, z, levels=levels, cmap="jet", extend="both")
    heat.set_xlim(0, 11)
    heat.set_ylim(0, 12000)
    heat.set_xticks(range(12))
    heat.set_xticklabels(months, rotation=45)
    heat.set_yticks(range(0, 12001, 2000))
    heat.set_yticklabels([])
    heat.tick_params(axis="y", length=0)
    heat.grid(True)
    heat.set_axisbelow(False)
    heat.spines[["top", "right"]].set_visible(False)
    heat.set_title("Precipitating-Mixed-Phase Clouds - " + title_qty, fontsize=11.8, pad=6)

    cax = add(cx0, y0, cx1, y1)
    cb = fig.colorbar(cs, cax=cax, ticks=ticks)
    cb.set_label(cbar_label, labelpad=2)

    mon_mean, mon_high, mon_low, mon_n = mon
    m0, m1 = mon_y
    ax = add(px0, m0, mx1, m1)
    x = range(12)
    ax.fill_between(x, mon_low, mon_high, color="gray", alpha=0.5)
    ax.plot(x, mon_mean, color="k", marker="o", ms=5, lw=1.5)
    ax.set_xlim(-0.54, 11.54)
    ax.set_xticks(range(12))
    ax.set_xticklabels(months)
    ax.set_xlabel("Month", labelpad=2.5)
    ax.set_ylabel(mon_ylabel, labelpad=2)
    ax.set_ylim(*mon_ylim)
    ax.set_yticks(mon_yticks)
    ax.grid(True)
    ax.spines[["top", "right"]].set_visible(False)
    ax2 = ax.twinx()
    ax2.plot(x, mon_n, color="b", ls="--", lw=1.5)
    ax2.set_ylim(0, right_top)
    ax2.set_yticks(right_ticks)
    ax2.set_yticklabels([spaced(v) for v in right_ticks])
    ax2.tick_params(axis="y", colors="b")
    ax2.set_ylabel("No Profiles", color="b", labelpad=1.5)
    ax2.grid(True, axis="y", ls=":")
    ax2.spines[["top", "right", "left", "bottom"]].set_visible(False)


col1 = (263, 747, 797, 1764, 1815, 1864, 1866)
col2 = (2343, 2829, 2879, 3847, 3896, 3946, 3946)
row1, mon1 = (251, 1107), (1280, 1580)
row2, mon2 = (1847, 2703), (2876, 3176)

panel(col1, row1, mon1, "a)", (11.3, 376), [100, 200, 300], "LWC (mg m$^{-3}$)", "LWC", "LWC (mg m$^{-3}$)",
      smooth_grid(lwc_heights, lwc_table), lwc_levels, lwc_ticks,
      {"DJF": (lwc_djf_h, lwc_djf_v), "JJA": (lwc_jja_h, lwc_jja_v), "MAM": (lwc_mam_h, lwc_mam_v), "SON": (lwc_son_h, lwc_son_v)},
      {"DJF": lwc_djf_spread, "JJA": lwc_jja_spread, "MAM": lwc_mam_spread, "SON": lwc_son_spread},
      (lwp_mean, lwp_high, lwp_low, lwp_n), [0, 5000, 10000], 11590, "LWP (g m$^{-2}$)", (-10.4, 379), [0, 200], legend=True)

panel(col2, row1, mon1, "b)", (0.07, 45), [20, 40], "IWC (mg m$^{-3}$)", "IWC", "IWC (mg m$^{-3}$)",
      smooth_grid(iwc_heights, iwc_table), iwc_levels, iwc_ticks,
      {"DJF": (iwc_djf_h, iwc_djf_v), "JJA": (iwc_jja_h, iwc_jja_v), "MAM": (iwc_mam_h, iwc_mam_v), "SON": (iwc_son_h, iwc_son_v)},
      {"DJF": iwc_djf_spread, "JJA": iwc_jja_spread, "MAM": iwc_mam_spread, "SON": iwc_son_spread},
      (iwp_mean, iwp_high, iwp_low, iwp_n), [0, 2500, 5000], 7240, "IWP (g m$^{-2}$)", (-9.9, 213.6), [0, 100, 200], legend=True)

panel(col1, row2, mon2, "c)", (4.19, 22.5), [10, 20], r"$r_{liq}$ ($\mu m$)", r"$r_{liq}$", r"$r_{liq}$ ($\mu m$)",
      step_grid(rliq_edges, rliq_table), rliq_levels, rliq_ticks,
      {"DJF": (rliq_djf_h, rliq_djf_v), "JJA": (rliq_jja_h, rliq_jja_v), "MAM": (rliq_mam_h, rliq_mam_v), "SON": (rliq_son_h, rliq_son_v)},
      {"DJF": rliq_djf_spread, "JJA": rliq_jja_spread, "MAM": rliq_mam_spread, "SON": rliq_son_spread},
      (rliq_mean, rliq_high, rliq_low, rliq_n), [0, 10000, 20000], 26165, r"$r_{liq}$ ($\mu m$)", (5.08, 21.14), [10, 20])

panel(col2, row2, mon2, "d)", (37.1, 56.8), [40, 50], r"$r_{ice}$ ($\mu m$)", r"$r_{ice}$", r"$r_{ice}$ ($\mu m$)",
      step_grid(rice_edges, rice_table), rice_levels, rice_ticks,
      {"DJF": (rice_djf_h, rice_djf_v), "JJA": (rice_jja_h, rice_jja_v), "MAM": (rice_mam_h, rice_mam_v), "SON": (rice_son_h, rice_son_v)},
      {"DJF": rice_djf_spread, "JJA": rice_jja_spread, "MAM": rice_mam_spread, "SON": rice_son_spread},
      (rice_mean, rice_high, rice_low, rice_n), [0, 10000, 20000], 26165, r"$r_{ice}$ ($\mu m$)", (44.58, 54.74), [45, 50])

fig.savefig("out.png", dpi=DPI)
